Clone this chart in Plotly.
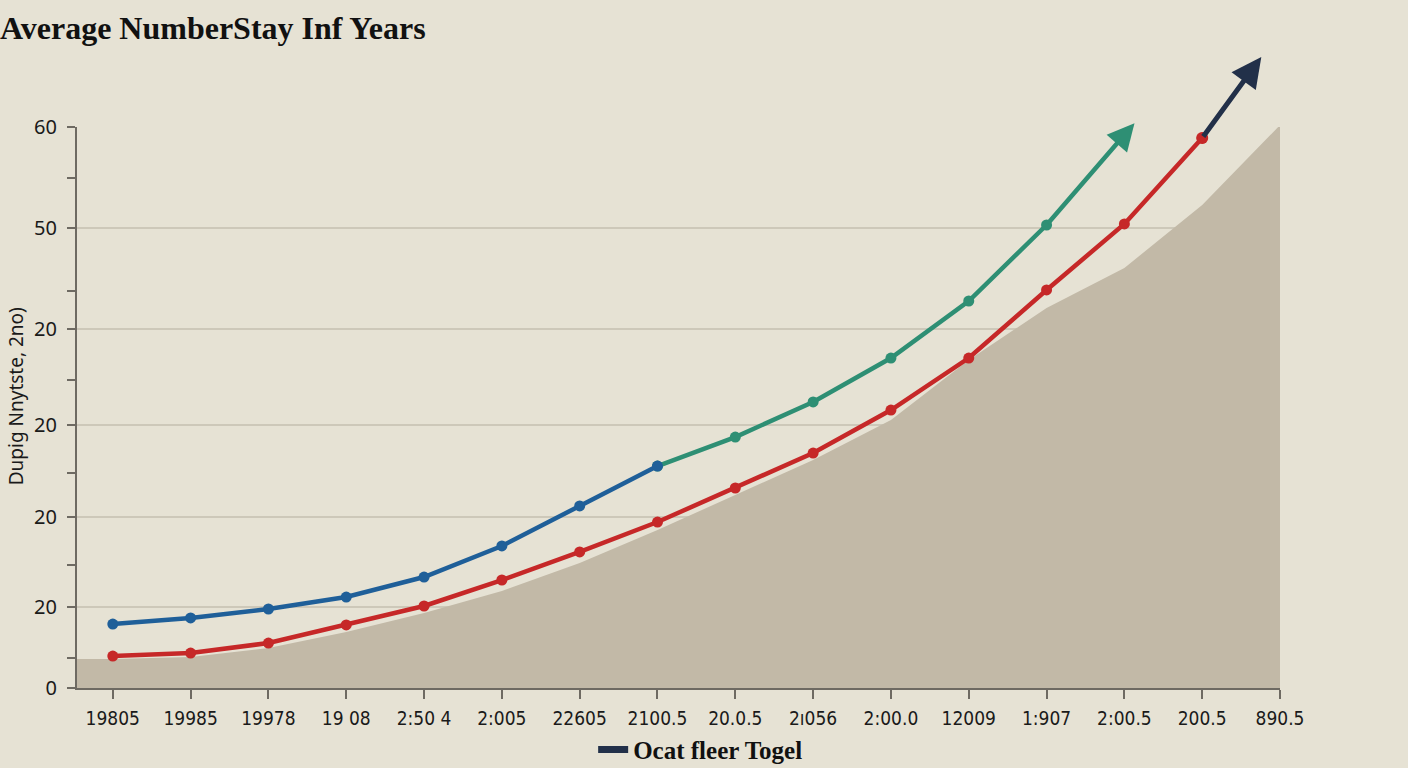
import plotly.graph_objects as go

# ---- data ----
x_labels = ["19805", "19985", "19978", "19 08", "2:50 4", "2:005", "22605", "2100.5",
            "20.0.5", "2ı056", "2:00.0", "12009", "1:907", "2:00.5", "200.5", "890.5"]
x_idx = list(range(len(x_labels)))

y_tick_vals = [0, 8.66, 18.3, 28.1, 38.4, 49.2, 60]
y_tick_text = ["0", "20", "20", "20", "20", "50", "60"]
y_minor_vals = [3.2, 13.2, 23.0, 32.9, 42.5, 54.5]

blue_x = [0, 1, 2, 3, 4, 5, 6, 7]
blue_y = [6.84, 7.49, 8.45, 9.73, 11.87, 15.19, 19.47, 23.74]

green_x = [7, 8, 9, 10, 11, 12]
green_y = [23.74, 26.84, 30.59, 35.29, 41.39, 49.52]
green_tip = (13.13, 60.4)

red_x = list(range(15))
red_y = [3.42, 3.74, 4.81, 6.74, 8.77, 11.55, 14.55, 17.75, 21.39, 25.13,
         29.73, 35.29, 42.57, 49.63, 58.82]
navy_tip = (14.76, 67.5)

area_y = [3.10, 3.32, 4.28, 5.99, 8.02, 10.37, 13.37, 16.9, 20.64, 24.39,
          28.66, 35.08, 40.64, 44.92, 51.66, 60.2]

legend_name = "Ocat fleer Togel"
title_text = "Average NumberStay Inf Years"
ytitle_text = "Dupig Nnytste, 2no)"

# ---- styles ----
BG = "#e6e2d4"
AREA = "#c2b9a7"
BLUE = "#1f5f99"
GREEN = "#2e8f74"
RED = "#c62828"
NAVY = "#223049"
X_RANGE = [-0.46, 15.0]

fig = go.Figure()

fig.add_trace(go.Scatter(
    x=[X_RANGE[0]] + x_idx, y=[area_y[0]] + area_y,
    mode="lines", line=dict(width=0, color=AREA),
    fill="tozeroy", fillcolor=AREA, showlegend=False, hoverinfo="skip"))

fig.add_trace(go.Scatter(
    x=green_x, y=green_y, mode="lines+markers",
    line=dict(color=GREEN, width=4.5), marker=dict(size=11, color=GREEN),
    showlegend=False))

fig.add_trace(go.Scatter(
    x=blue_x, y=blue_y, mode="lines+markers",
    line=dict(color=BLUE, width=4.5), marker=dict(size=11, color=BLUE),
    showlegend=False))

fig.add_trace(go.Scatter(
    x=red_x, y=red_y, mode="lines+markers",
    line=dict(color=RED, width=4.5), marker=dict(size=11, color=RED),
    showlegend=False))

# legend dummy
fig.add_trace(go.Scatter(
    x=[None], y=[None], mode="lines", name=legend_name,
    line=dict(color=NAVY, width=7), showlegend=True))

# arrows
fig.add_annotation(x=green_tip[0], y=green_tip[1], ax=green_x[-1], ay=green_y[-1],
                   xref="x", yref="y", axref="x", ayref="y", text="",
                   showarrow=True, arrowhead=2, arrowsize=1.2, arrowwidth=4.5,
                   arrowcolor=GREEN)
fig.add_annotation(x=navy_tip[0], y=navy_tip[1], ax=red_x[-1], ay=red_y[-1],
                   xref="x", yref="y", axref="x", ayref="y", text="",
                   showarrow=True, arrowhead=2, arrowsize=1.2, arrowwidth=5,
                   arrowcolor=NAVY)
# redraw red last marker on top
fig.add_trace(go.Scatter(x=[red_x[-1]], y=[red_y[-1]], mode="markers",
                         marker=dict(size=12, color=RED), showlegend=False))

# y-axis title
fig.add_annotation(x=-0.0507, y=0.52, xref="paper", yref="paper", text=ytitle_text,
                   textangle=-90, showarrow=False, xanchor="center", yanchor="middle",
                   font=dict(family="Noto Sans, Open Sans, sans-serif", size=19, color="#1a1a1a"))

fig.update_layout(
    width=1408, height=768,
    paper_bgcolor=BG, plot_bgcolor=BG,
    margin=dict(l=77, r=128, t=127, b=80, autoexpand=False),
    title=dict(text=title_text, x=0, xanchor="left", xref="container",
               y=1 - 28 / 768, yanchor="middle", yref="container", pad=dict(l=0, t=0),
               font=dict(family="Liberation Serif, DejaVu Serif, serif", size=32,
                         color="#111111", weight="bold")),
    legend=dict(orientation="h", x=0.518, xanchor="center", y=-0.11, yanchor="middle",
                bgcolor="rgba(0,0,0,0)",
                font=dict(family="Liberation Serif, DejaVu Serif, serif", size=25,
                          color="#111111", weight="bold")),
    showlegend=True,
)

fig.update_xaxes(
    range=X_RANGE, tickmode="array", tickvals=x_idx, ticktext=x_labels,
    showgrid=False, zeroline=False, showline=True, linecolor="#6e6a62", linewidth=2,
    ticks="outside", ticklen=9, tickcolor="#6e6a62", tickwidth=1.5,
    ticklabelstandoff=3,
    tickfont=dict(family="Liberation Sans Narrow, DejaVu Sans Condensed, Roboto, sans-serif",
                  size=19, color="#1a1a1a"),
)
fig.update_yaxes(
    range=[0, 60], tickmode="array", tickvals=y_tick_vals, ticktext=y_tick_text,
    showgrid=True, gridcolor="#cdc8b9", gridwidth=1.5, zeroline=False,
    showline=True, linecolor="#6e6a62", linewidth=2,
    ticks="outside", ticklen=8, tickcolor="#6e6a62", tickwidth=1.5,
    ticklabelstandoff=6,
    minor=dict(tickvals=y_minor_vals, ticks="outside", ticklen=8, tickcolor="#6e6a62",
               showgrid=False),
    tickfont=dict(family="Noto Sans, Open Sans, sans-serif", size=20, color="#1a1a1a"),
)

fig.write_html("out.html", config={"displayModeBar": False},
               post_script="document.body.style.margin='0';document.body.style.background='" + BG + "';")
